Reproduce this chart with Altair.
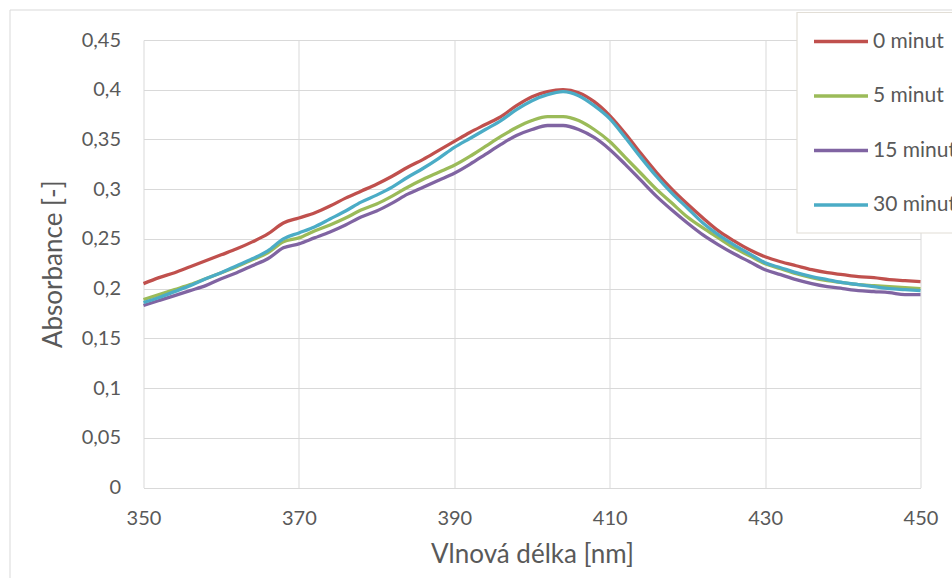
import altair as alt
import pandas as pd

wavelength = list(range(350, 451, 2))

min0 = [0.205, 0.211, 0.216, 0.222, 0.228, 0.234, 0.240, 0.247, 0.255, 0.266,
        0.271, 0.276, 0.283, 0.291, 0.298, 0.305, 0.313, 0.322, 0.330, 0.339,
        0.348, 0.357, 0.365, 0.373, 0.384, 0.393, 0.398, 0.400, 0.397, 0.388,
        0.374, 0.356, 0.336, 0.317, 0.300, 0.285, 0.271, 0.258, 0.248, 0.239,
        0.232, 0.227, 0.223, 0.219, 0.216, 0.214, 0.212, 0.211, 0.209, 0.208, 0.207]

min5 = [0.189, 0.194, 0.199, 0.204, 0.210, 0.216, 0.222, 0.229, 0.236, 0.247,
        0.251, 0.258, 0.264, 0.271, 0.279, 0.285, 0.293, 0.302, 0.310, 0.317,
        0.324, 0.333, 0.343, 0.353, 0.362, 0.369, 0.373, 0.373, 0.369, 0.360,
        0.348, 0.332, 0.316, 0.300, 0.286, 0.272, 0.261, 0.251, 0.241, 0.233,
        0.225, 0.220, 0.215, 0.211, 0.208, 0.206, 0.204, 0.203, 0.202, 0.201, 0.200]

min15 = [0.183, 0.188, 0.193, 0.198, 0.203, 0.210, 0.216, 0.223, 0.230, 0.241,
         0.245, 0.251, 0.257, 0.264, 0.272, 0.278, 0.286, 0.295, 0.302, 0.309,
         0.316, 0.325, 0.335, 0.345, 0.354, 0.360, 0.364, 0.364, 0.360, 0.352,
         0.340, 0.325, 0.309, 0.293, 0.279, 0.266, 0.254, 0.244, 0.235, 0.227,
         0.219, 0.214, 0.209, 0.205, 0.202, 0.200, 0.198, 0.197, 0.196, 0.194, 0.194]

min30 = [0.186, 0.191, 0.197, 0.203, 0.210, 0.216, 0.223, 0.230, 0.238, 0.250,
         0.256, 0.262, 0.270, 0.278, 0.287, 0.294, 0.302, 0.312, 0.321, 0.331,
         0.342, 0.351, 0.360, 0.369, 0.380, 0.389, 0.395, 0.398, 0.394, 0.384,
         0.371, 0.352, 0.332, 0.313, 0.296, 0.281, 0.266, 0.254, 0.244, 0.235,
         0.226, 0.221, 0.216, 0.212, 0.209, 0.206, 0.204, 0.202, 0.200, 0.199, 0.198]

series_names = ["0 minut", "5 minut", "15 minut", "30 minut"]
series_colors = ["#C0504D", "#9BBB59", "#8064A2", "#4BACC6"]
series_values = [min0, min5, min15, min30]

x_ticks = [350, 370, 390, 410, 430, 450]
y_ticks = [0, 0.05, 0.1, 0.15, 0.2, 0.25, 0.3, 0.35, 0.4, 0.45]

rows = []
for name, vals in zip(series_names, series_values):
    for w, v in zip(wavelength, vals):
        rows.append({"wl": w, "abs": v, "series": name})
df = pd.DataFrame(rows)

FONT = "Lato"
TXT = "#595959"
GRID = "#d9d9d9"

frame = alt.Chart(alt.Data(values=[{}])).mark_rect(
    fillOpacity=0, stroke=GRID, strokeWidth=1
).encode(
    x=alt.value(-133.5), x2=alt.value(900),
    y=alt.value(-30), y2=alt.value(620)
)

legend_box = alt.Chart(alt.Data(values=[{}])).mark_rect(
    fill="white", stroke="#e2ded6", strokeWidth=1.2
).encode(
    x=alt.value(653.5), x2=alt.value(900),
    y=alt.value(-27.5), y2=alt.value(193)
)

lines = alt.Chart(df).mark_line(strokeWidth=3.3, interpolate="monotone").encode(
    x=alt.X("wl:Q",
            scale=alt.Scale(domain=[350, 450], nice=False, zero=False),
            axis=alt.Axis(values=x_ticks, title="Vlnová délka [nm]", grid=True,
                          gridColor=GRID, domain=False, ticks=False,
                          labelFlush=False,
                          labelFont=FONT, labelFontSize=20, labelColor=TXT,
                          labelPadding=21, titleFont=FONT, titleFontSize=26,
                          titleColor=TXT, titleFontWeight="normal",
                          titlePadding=13)),
    y=alt.Y("abs:Q",
            scale=alt.Scale(domain=[0, 0.45], nice=False),
            axis=alt.Axis(values=y_ticks, title="Absorbance [-]", grid=True,
                          gridColor=GRID, domain=False, ticks=False,
                          labelFlush=False,
                          labelExpr="replace(format(datum.value, '~g'), '.', ',')",
                          labelFont=FONT, labelFontSize=20, labelColor=TXT,
                          labelPadding=23, titleFont=FONT, titleFontSize=26,
                          titleColor=TXT, titleFontWeight="normal",
                          titlePadding=15)),
    color=alt.Color("series:N",
                    scale=alt.Scale(domain=series_names, range=series_colors),
                    legend=alt.Legend(title=None, orient="none",
                                      legendX=668.5, legendY=-27.5,
                                      symbolType="stroke", symbolSize=2916,
                                      symbolStrokeWidth=3.5,
                                      labelFont=FONT, labelFontSize=21,
                                      labelColor=TXT, labelOffset=3,
                                      rowPadding=15.5, padding=0,
                                      labelLimit=300)),
    order=alt.Order("wl:Q")
)

chart = alt.layer(frame, legend_box, lines).properties(
    width=777, height=447.5,
    autosize=alt.AutoSizeParams(type="none"),
    padding={"left": 143.5, "top": 40, "right": 31.5, "bottom": 90.5},
    background="white"
).configure_view(stroke=None)

chart.save("out.html", embed_options={"renderer": "svg", "actions": False})
